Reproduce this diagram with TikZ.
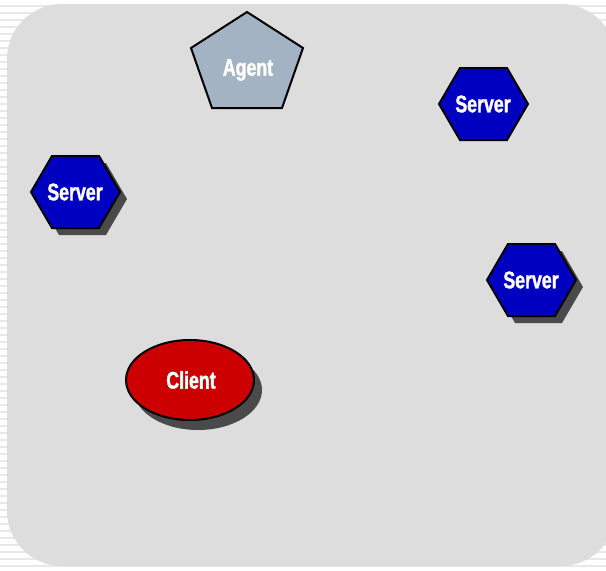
\documentclass[tikz,border=0pt]{standalone}
\usepackage{fontspec}
\newfontfamily\lblfont[FakeStretch=0.74,FakeBold=1.5]{Liberation Sans}
\definecolor{panel}{HTML}{DDDDDD}
\definecolor{stripe}{HTML}{E8E8E8}
\definecolor{shade}{HTML}{4A4A4A}
\definecolor{agentfill}{HTML}{A3B3C3}
\definecolor{serverfill}{HTML}{0000C0}
\definecolor{clientfill}{HTML}{CC0000}
\tikzset{
  outline/.style={draw=black, line width=2pt, line join=miter},
  shadow/.style={fill=shade, draw=none},
  lbl/.style={text=white, font=\lblfont\bfseries\fontsize{24}{24}\selectfont, inner sep=0pt},
}
% flat-topped hexagon centred on the current point
\newcommand{\hexat}[1]{#1 ++(-44,0) -- ++(21,-36) -- ++(47,0) -- ++(21,36) -- ++(-21,36) -- ++(-47,0) -- cycle}
\begin{document}
\begin{tikzpicture}[x=1pt,y=-1pt]
  \useasboundingbox (0,0) rectangle (606,571);
  % striped backdrop
  \fill[white] (0,0) rectangle (606,571);
  \foreach \k in {0,...,81} {
    \fill[stripe] (0,{5+7*\k}) rectangle (606,{7+7*\k});
  }
  % rounded panel
  \fill[panel, rounded corners=55pt] (7,4) rectangle (616,566);

  % Agent
  \draw[outline, fill=agentfill] (247,12) -- (303,48) -- (282,108) -- (212,108) -- (191,48) -- cycle;
  \node[lbl] (agent) at (248,70) {Agent};

  % Server, top right
  \draw[outline, fill=serverfill] \hexat{(483,104)};
  \node[lbl] (server1) at (483,104) {Server};

  % Server, left
  \fill[shadow] \hexat{(82,199)};
  \draw[outline, fill=serverfill] \hexat{(75,192)};
  \node[lbl] (server2) at (75,192) {Server};

  % Server, right
  \fill[shadow] \hexat{(538,287)};
  \draw[outline, fill=serverfill] \hexat{(531,280)};
  \node[lbl] (server3) at (531,280) {Server};

  % Client
  \fill[shadow] (198,390) ellipse [x radius=64, y radius=40];
  \draw[outline, fill=clientfill] (190,380) ellipse [x radius=64, y radius=40];
  \node[lbl] (client) at (191,380) {Client};
\end{tikzpicture}
\end{document}
